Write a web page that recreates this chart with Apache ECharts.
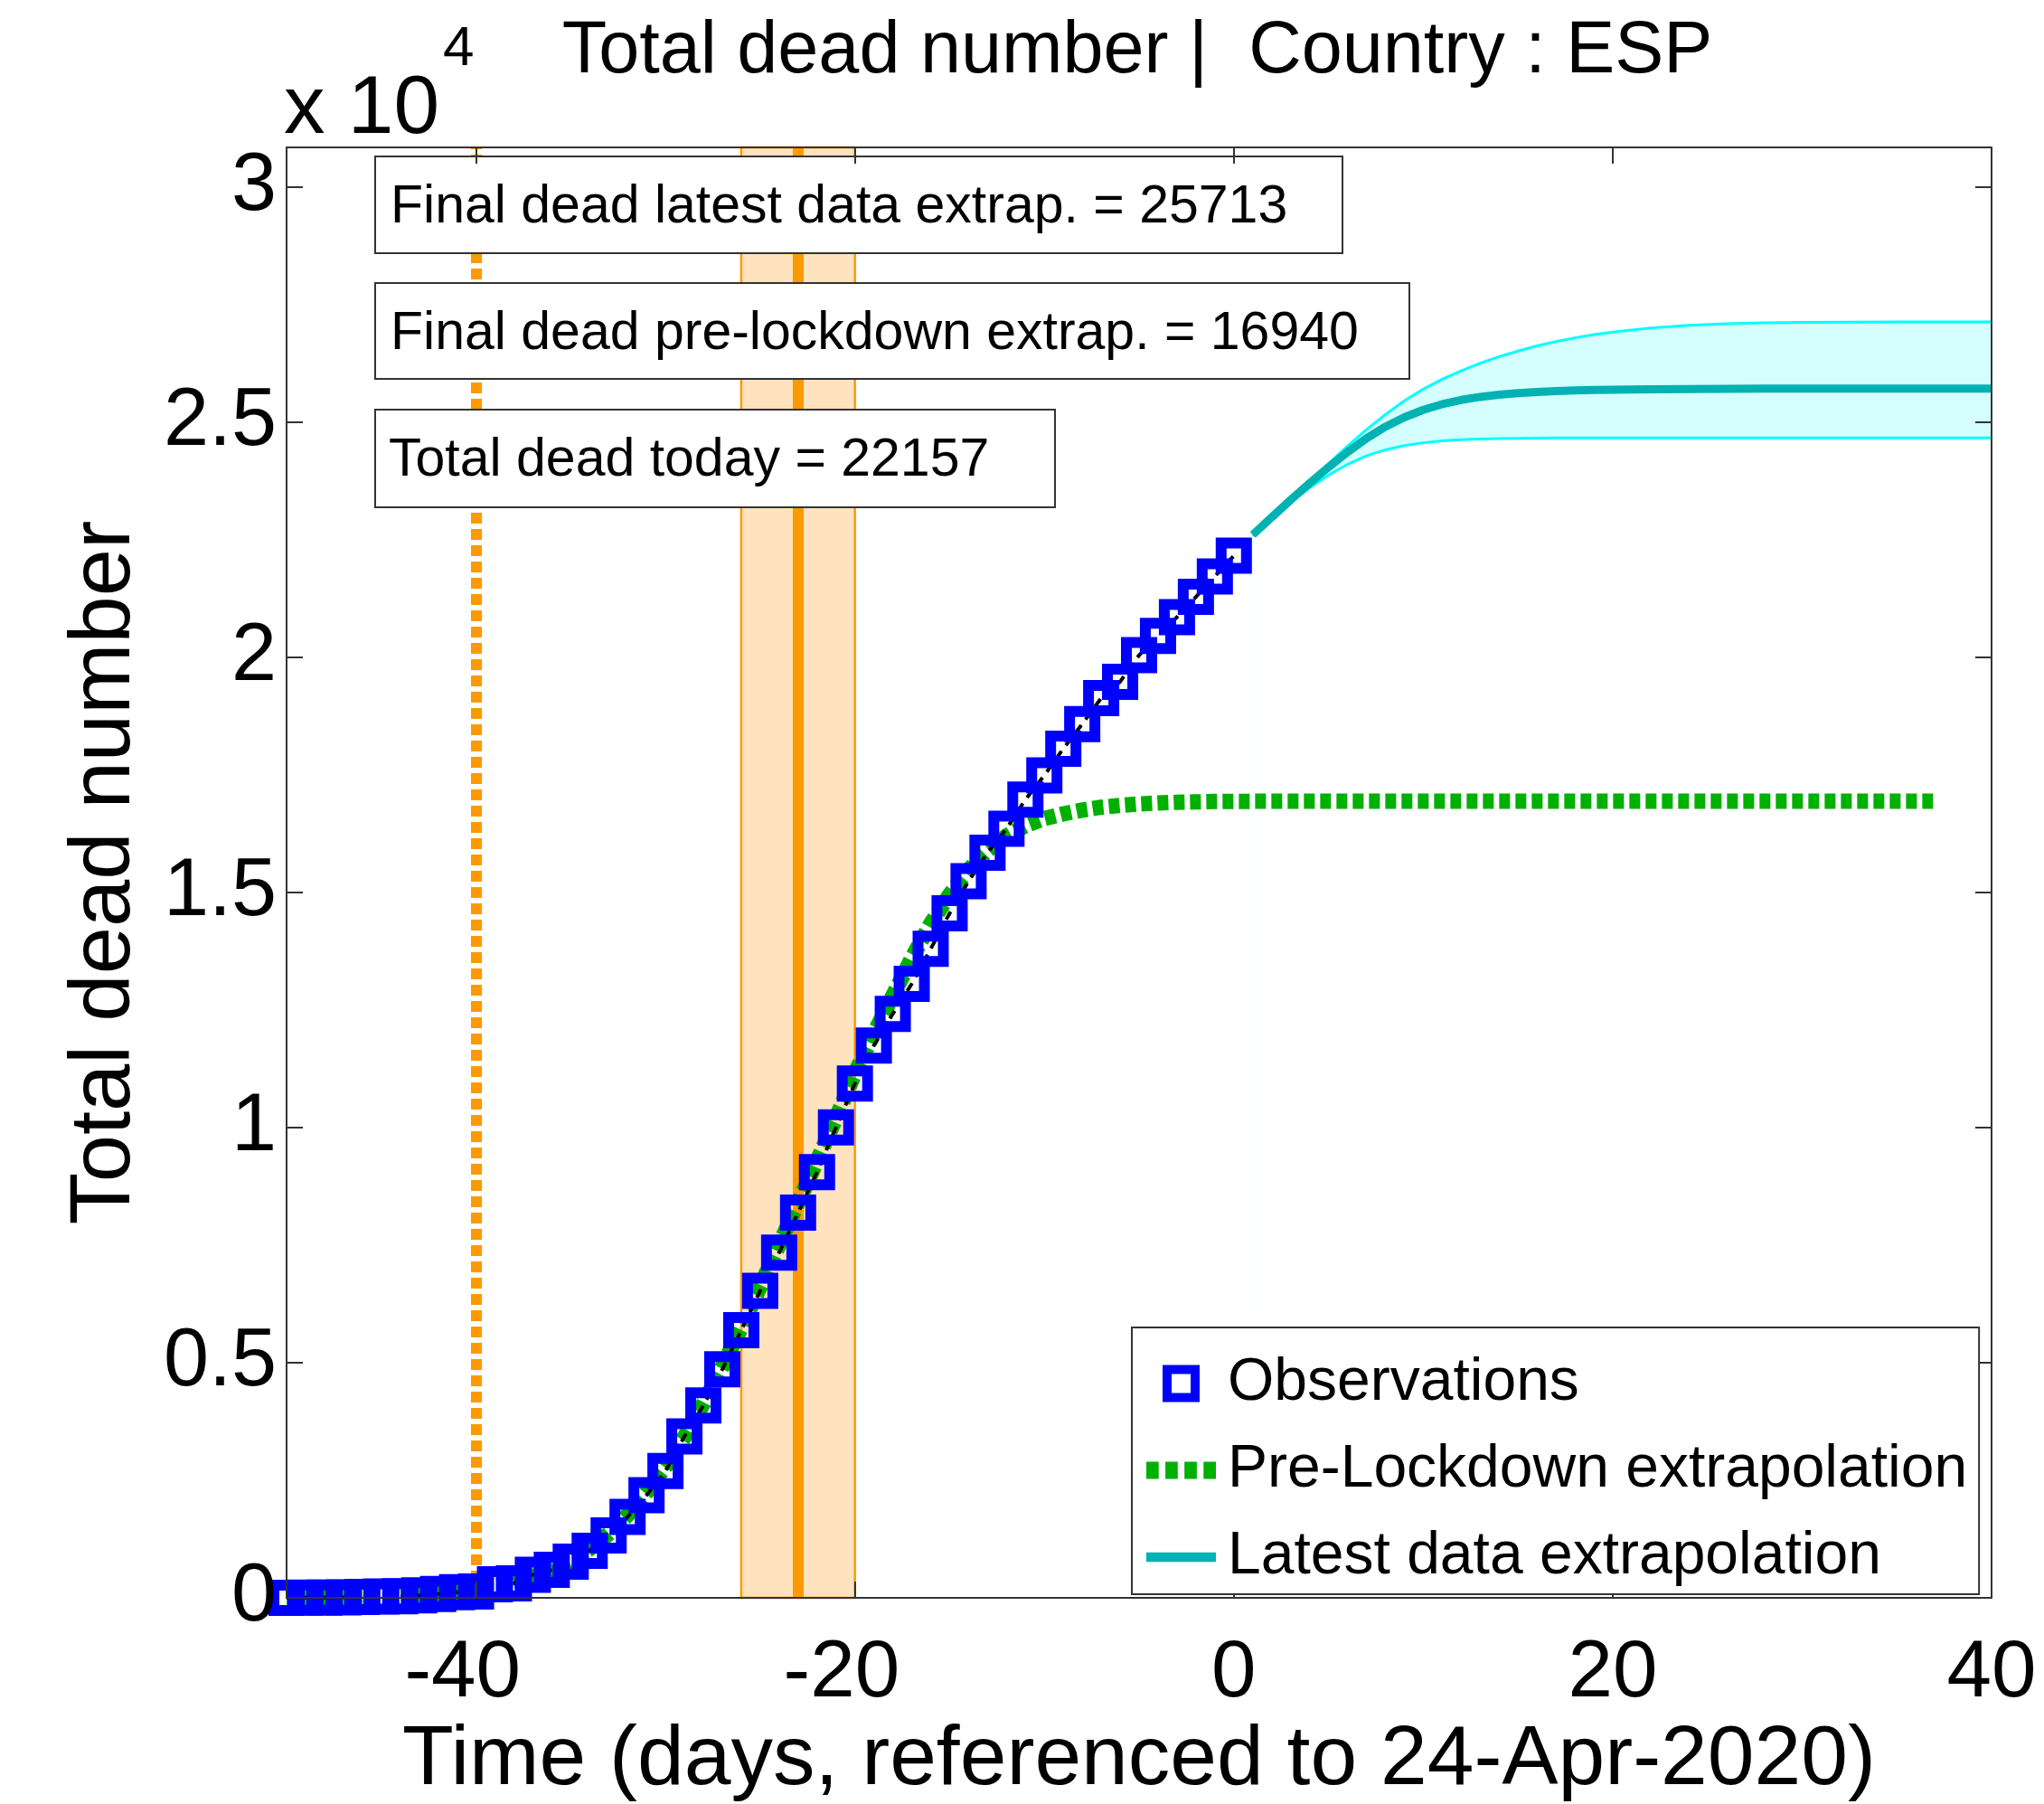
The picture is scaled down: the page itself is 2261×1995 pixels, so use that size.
<!DOCTYPE html>
<html>
<head>
<meta charset="utf-8">
<script src="https://cdn.jsdelivr.net/npm/echarts@6/dist/echarts.min.js"></script>
<style>html,body{margin:0;padding:0;background:#fff}#c{width:2261px;height:1995px}</style>
</head>
<body>
<div id="c"></div>
<script>
// ---------------- data ----------------
const obsDays = [-50,-49,-48,-47,-46,-45,-44,-43,-42,-41,-40,-39,-38,-37,-36,-35,-34,-33,-32,-31,-30,-29,-28,-27,-26,-25,-24,-23,-22,-21,-20,-19,-18,-17,-16,-15,-14,-13,-12,-11,-10,-9,-8,-7,-6,-5,-4,-3,-2,-1,0];
const observed = [2,3,5,10,17,28,35,54,84,120,136,288,309,491,598,767,1002,1326,1720,2182,2696,3434,4089,4858,5690,6528,7340,8189,9053,10003,10935,11744,12418,13055,13798,14555,15238,15843,16353,16972,17489,18056,18579,19130,19478,20043,20453,20852,21282,21717,22157];

const preDays = [-50,-49,-48,-47,-46,-45,-44,-43,-42,-41,-40,-39,-38,-37,-36,-35,-34,-33,-32,-31,-30,-29,-28,-27,-26,-25,-24,-23,-22,-21,-20,-19,-18,-17,-16,-15,-14,-13,-12,-11,-10,-9,-8,-7,-6,-5,-4,-3,-2,-1,0,5,10,37];
const preValues = [3,5,8,12,18,27,40,58,85,122,175,245,335,450,595,780,1040,1360,1760,2240,2790,3420,4130,4910,5750,6620,7510,8400,9290,10200,11150,12000,12800,13600,14330,14950,15480,15890,16200,16420,16570,16670,16750,16810,16850,16880,16900,16915,16925,16932,16936,16939,16940,16940];

const latestDays   = [1,2,3,4,5,6,7,8,9,10,11,12,13,14,15,16,17,18,19,20,22,24,26,28,30,35,40];
const latestCenter = [22600,22975,23345,23700,24040,24360,24650,24900,25100,25260,25380,25470,25535,25580,25615,25640,25658,25671,25681,25688,25698,25704,25708,25710,25712,25713,25713];
const latestUpper  = [22600,22980,23360,23740,24120,24490,24840,25160,25450,25700,25910,26090,26250,26390,26510,26620,26710,26790,26860,26915,27000,27055,27090,27110,27120,27130,27130];
const latestLower  = [22580,22950,23290,23600,23870,24100,24280,24410,24500,24560,24600,24625,24640,24650,24656,24660,24662,24663,24664,24665,24665,24665,24665,24665,24665,24665,24665];

const xTicks = [-40,-20,0,20,40];
const yTicks = [0,5000,10000,15000,20000,25000,30000];
const xMin = -50, xMax = 40, yMin = 0, yMax = 30840;

const earlyMeasureDay = -40;
const lockdownDay = -23;
const lockdownBandStart = -26;
const lockdownBandEnd = -20;

const finalLatest = 25713;
const finalPreLockdown = 16940;
const totalToday = observed[observed.length - 1];

// ---------------- chart ----------------
const FONT = '"Liberation Sans", Arial, Helvetica, sans-serif';
const zip = (xs, ys) => xs.map((x, i) => [x, ys[i]]);

const axisLineStyle = {show: true, onZero: false, lineStyle: {color: '#333', width: 2}};
const tickStyle = (vals) => ({show: true, inside: true, length: 18, customValues: vals, lineStyle: {color: '#333', width: 2}});

const chart = echarts.init(document.getElementById('c'), null, {renderer: 'canvas', width: 2261, height: 1995});

const option = {
  animation: false,
  backgroundColor: '#fff',
  grid: {left: 317, right: 58, top: 163, bottom: 228, outerBoundsMode: 'none'},
  xAxis: [
    {
      type: 'value', position: 'bottom', min: xMin, max: xMax, z: 10,
      axisLine: axisLineStyle, axisTick: tickStyle(xTicks), splitLine: {show: false},
      axisLabel: {
        customValues: xTicks, margin: 84, verticalAlign: 'middle',
        fontSize: 89, fontFamily: FONT, color: '#000',
        formatter: v => (v < 0 ? v + '{h|-}' : String(v)),
        rich: {h: {color: 'rgba(0,0,0,0)', fontSize: 89, fontFamily: FONT}}
      },
      name: 'Time (days, referenced to 24-Apr-2020)', nameLocation: 'middle', nameGap: 170,
      nameTextStyle: {fontSize: 93, fontFamily: FONT, color: '#000', verticalAlign: 'middle'}
    },
    {
      type: 'value', position: 'top', min: xMin, max: xMax, z: 10,
      axisLine: axisLineStyle, axisTick: tickStyle(xTicks), splitLine: {show: false},
      axisLabel: {show: false}
    }
  ],
  yAxis: [
    {
      type: 'value', position: 'left', min: yMin, max: yMax, z: 10,
      axisLine: axisLineStyle, axisTick: tickStyle(yTicks), splitLine: {show: false},
      axisLabel: {
        customValues: yTicks, margin: 11, verticalAlign: 'middle', padding: [16, 0, 0, 0],
        fontSize: 90, fontFamily: FONT, color: '#000',
        formatter: v => String(v / 10000)
      },
      name: 'Total dead number', nameLocation: 'middle', nameGap: 200,
      nameTextStyle: {fontSize: 94, fontFamily: FONT, color: '#000', verticalAlign: 'middle'}
    },
    {
      type: 'value', position: 'right', min: yMin, max: yMax, z: 10,
      axisLine: axisLineStyle, axisTick: tickStyle(yTicks), splitLine: {show: false},
      axisLabel: {show: false}
    }
  ],
  legend: {
    orient: 'vertical', left: 1252, top: 1468, z: 20,
    padding: [29, 13, 8, 16], itemGap: 30, itemWidth: 77, itemHeight: 31,
    backgroundColor: '#fff', borderColor: '#333', borderWidth: 2, borderRadius: 0,
    selectedMode: false, symbolKeepAspect: true,
    textStyle: {fontSize: 66, fontFamily: FONT, color: '#000', lineHeight: 64, padding: [0, 0, 0, 8]},
    data: [
      {name: 'Observations', icon: 'path://M0,0h10v10h-10z', itemStyle: {color: 'rgba(0,0,0,0)', borderColor: '#0000FF', borderWidth: 10, opacity: 1}},
      {name: 'Pre-Lockdown extrapolation', icon: 'path://M0,0h13v18h-13zM20,0h13v18h-13zM40,0h13v18h-13zM60,0h13v18h-13z', itemStyle: {color: '#00B000', borderWidth: 0}},
      {name: 'Latest data extrapolation', icon: 'path://M0,0h80v11h-80z', itemStyle: {color: '#00B2B2', borderWidth: 0}}
    ]
  },
  series: [
    // confidence band: cyan area under the upper bound, white area under the lower bound
    {
      name: '_upper_area', type: 'line', z: 5, symbol: 'none', silent: true,
      data: zip(latestDays, latestUpper), lineStyle: {opacity: 0},
      areaStyle: {color: '#D5FFFF', opacity: 1}, emphasis: {disabled: true}
    },
    {
      name: '_lower_area', type: 'line', z: 5, symbol: 'none', silent: true,
      data: zip(latestDays, latestLower), lineStyle: {opacity: 0},
      areaStyle: {color: '#FFFFFF', opacity: 1}, emphasis: {disabled: true}
    },
    {
      name: '_upper', type: 'line', z: 6, symbol: 'none', silent: true,
      data: zip(latestDays, latestUpper), lineStyle: {color: '#00FFFF', width: 3}, emphasis: {disabled: true}
    },
    {
      name: '_lower', type: 'line', z: 6, symbol: 'none', silent: true,
      data: zip(latestDays, latestLower), lineStyle: {color: '#00FFFF', width: 3}, emphasis: {disabled: true}
    },
    {
      name: 'Latest data extrapolation', type: 'line', z: 6, symbol: 'none', silent: true,
      data: zip(latestDays, latestCenter), lineStyle: {color: '#00B2B2', width: 9}, emphasis: {disabled: true}
    },
    {
      name: 'Pre-Lockdown extrapolation', type: 'line', z: 6, symbol: 'none', silent: true,
      data: zip(preDays, preValues),
      lineStyle: {color: '#00B000', width: 17, type: [12, 6], cap: 'butt'},
      emphasis: {disabled: true},
      markArea: {
        silent: true, label: {show: false},
        itemStyle: {color: '#FFE3BF', borderColor: '#FF9900', borderWidth: 2.5},
        data: [[{xAxis: lockdownBandStart}, {xAxis: lockdownBandEnd}]]
      },
      markLine: {
        silent: true, symbol: ['none', 'none'], label: {show: false}, animation: false,
        data: [
          {xAxis: lockdownDay, lineStyle: {color: '#FF9900', width: 12, type: 'solid'}},
          {xAxis: earlyMeasureDay, lineStyle: {color: '#FF9900', width: 12, type: [12, 6]}}
        ]
      }
    },
    {
      name: '_fit', type: 'line', z: 7, symbol: 'none', silent: true,
      data: zip(obsDays, observed), lineStyle: {color: '#000', width: 4, type: [10, 8]}, emphasis: {disabled: true}
    },
    {
      name: 'Observations', type: 'scatter', z: 8, symbol: 'rect', symbolSize: 28, silent: true,
      data: zip(obsDays, observed),
      itemStyle: {color: 'rgba(0,0,0,0)', borderColor: '#0000FF', borderWidth: 12, opacity: 1},
      emphasis: {disabled: true}
    }
  ],
  graphic: {
    elements: [
      {type: 'text', x: 1258, y: 58, z: 9, style: {text: 'Total dead number |  Country : ESP', fontSize: 81, fontFamily: FONT, fill: '#000', align: 'center', verticalAlign: 'middle'}},
      {type: 'text', x: 314, y: 122, z: 9, style: {text: 'x 10', fontSize: 91, fontFamily: FONT, fill: '#000', align: 'left', verticalAlign: 'middle'}},
      {type: 'text', x: 490, y: 55, z: 9, style: {text: '4', fontSize: 62, fontFamily: FONT, fill: '#000', align: 'left', verticalAlign: 'middle'}},

      {type: 'rect', z: 9, shape: {x: 415, y: 173, width: 1070, height: 107}, style: {fill: '#fff', stroke: '#333', lineWidth: 2}},
      {type: 'text', x: 432, y: 230, z: 9, style: {text: 'Final dead latest data extrap. = ' + finalLatest, fontSize: 59, fontFamily: FONT, fill: '#000', verticalAlign: 'middle'}},

      {type: 'rect', z: 9, shape: {x: 415, y: 313, width: 1144, height: 106}, style: {fill: '#fff', stroke: '#333', lineWidth: 2}},
      {type: 'text', x: 432, y: 370, z: 9, style: {text: 'Final dead pre-lockdown extrap. = ' + finalPreLockdown, fontSize: 59, fontFamily: FONT, fill: '#000', verticalAlign: 'middle'}},

      {type: 'rect', z: 9, shape: {x: 415, y: 453, width: 752, height: 108}, style: {fill: '#fff', stroke: '#333', lineWidth: 2}},
      {type: 'text', x: 430, y: 510, z: 9, style: {text: 'Total dead today = ' + totalToday, fontSize: 59, fontFamily: FONT, fill: '#000', verticalAlign: 'middle'}}
    ]
  }
};
chart.setOption(option);
</script>
</body>
</html>
